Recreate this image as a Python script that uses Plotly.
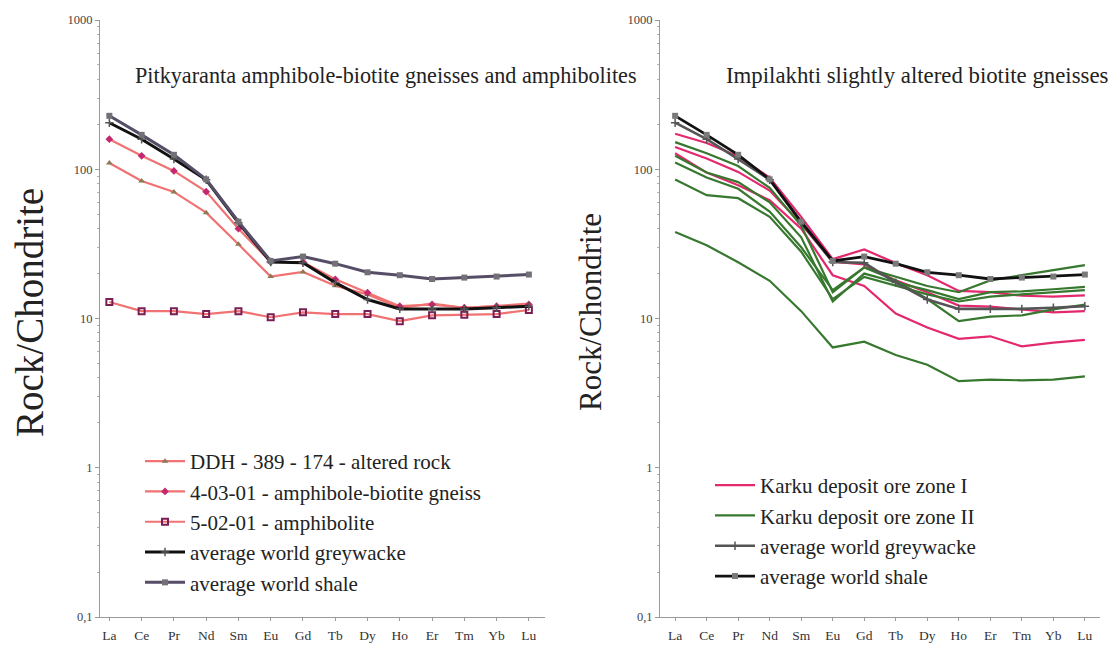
import plotly.graph_objects as go

ree = ["La", "Ce", "Pr", "Nd", "Sm", "Eu", "Gd", "Tb", "Dy", "Ho", "Er", "Tm", "Yb", "Lu"]

# Left panel (Pitkyaranta)
ddh_389_174 = [110, 83.5, 70.5, 51.2, 31.4, 19.1, 20.5, 16.6, 14.5, 11.8, 12.6, 11.8, 12.1, 12.6]
s_4_03_01 = [159, 123, 97.5, 70.8, 40, 23.9, 23.9, 18.3, 14.9, 12.1, 12.4, 11.8, 12.1, 12.4]
s_5_02_01 = [12.9, 11.2, 11.2, 10.7, 11.2, 10.2, 11.0, 10.7, 10.7, 9.6, 10.5, 10.6, 10.7, 11.4]
greywacke = [205, 159, 117, 85, 43.8, 23.9, 23.6, 17.4, 13.4, 11.6, 11.6, 11.6, 11.8, 12.1]
shale = [228, 170, 125, 85.5, 44.5, 24.3, 26.0, 23.3, 20.4, 19.5, 18.4, 18.8, 19.1, 19.7]

# Right panel (Impilakhti) - Karku deposit ore zone I
karku_I = [
    [173, 150, 122, 88, 48, 25, 29, 23.5, 19.5, 15.3, 15, 14.2, 14, 14.3],
    [141, 118, 96, 72, 43, 24, 23, 18, 15, 12.2, 12, 11.5, 11, 11.2],
    [128, 95, 78, 62, 40, 19.5, 16.5, 10.8, 8.7, 7.3, 7.6, 6.5, 6.9, 7.2],
]
# Karku deposit ore zone II
karku_II = [
    [152, 128, 105, 75, 42, 15, 22, 19, 16.5, 15, 18, 19.5, 21, 22.8],
    [123, 95, 82, 60, 35, 13, 20, 17.5, 15.5, 13.5, 15, 15.2, 15.7, 16.3],
    [111, 88, 74, 52, 30, 15.5, 22, 18, 13.5, 9.6, 10.3, 10.5, 11.5, 12.4],
    [85.5, 67, 64, 48, 28, 13.5, 19, 16.5, 14.5, 13, 14, 14.5, 15, 15.5],
    [38, 31, 23.8, 17.9, 11.2, 6.4, 7.0, 5.7, 4.9, 3.8, 3.9, 3.85, 3.9, 4.1],
]

ytick_vals = [0.1, 1, 10, 100, 1000]
ytick_text = ["0,1", "1", "10", "100", "1000"]

SERIF = "Liberation Serif, Times New Roman, serif"
SALMON = "#f07272"
PINK = "#e4286e"
GREEN = "#37782f"

# the page body has an 8px margin; positions below are given in window pixels
OFF = 8
W, H = 1119, 650


def px(p):
    return (p - OFF) / W


def py(p):
    return 1 - (p - OFF) / H


fig = go.Figure()

# ---- left panel ----
fig.add_trace(go.Scatter(x=ree, y=ddh_389_174, mode="lines+markers", name="DDH - 389 - 174 - altered rock",
                         line=dict(color=SALMON, width=2.2),
                         marker=dict(symbol="triangle-up", size=6, color="#8c7a55"),
                         xaxis="x", yaxis="y", legend="legend"))
fig.add_trace(go.Scatter(x=ree, y=s_4_03_01, mode="lines+markers", name="4-03-01 - amphibole-biotite gneiss",
                         line=dict(color=SALMON, width=2.2),
                         marker=dict(symbol="diamond", size=6, color="#c4286e"),
                         xaxis="x", yaxis="y", legend="legend"))
fig.add_trace(go.Scatter(x=ree, y=s_5_02_01, mode="lines+markers", name="5-02-01 - amphibolite",
                         line=dict(color=SALMON, width=2.2),
                         marker=dict(symbol="square-open", size=6, color="#7a1f55", line=dict(width=2)),
                         xaxis="x", yaxis="y", legend="legend"))
fig.add_trace(go.Scatter(x=ree, y=greywacke, mode="lines+markers", name="average world greywacke",
                         line=dict(color="#111111", width=3),
                         marker=dict(symbol="cross-thin", size=6, color="#333333", line=dict(width=1.5, color="#555555")),
                         xaxis="x", yaxis="y", legend="legend"))
fig.add_trace(go.Scatter(x=ree, y=shale, mode="lines+markers", name="average world shale",
                         line=dict(color="#564e66", width=3),
                         marker=dict(symbol="square", size=6, color="#737078"),
                         xaxis="x", yaxis="y", legend="legend"))

# ---- right panel ----
for i, ser in enumerate(karku_I):
    fig.add_trace(go.Scatter(x=ree, y=ser, mode="lines", name="Karku deposit ore zone I",
                             line=dict(color=PINK, width=2.2), legendgroup="k1",
                             showlegend=(i == 0), xaxis="x2", yaxis="y2", legend="legend2"))
for i, ser in enumerate(karku_II):
    fig.add_trace(go.Scatter(x=ree, y=ser, mode="lines", name="Karku deposit ore zone II",
                             line=dict(color=GREEN, width=2.2), legendgroup="k2",
                             showlegend=(i == 0), xaxis="x2", yaxis="y2", legend="legend2"))
fig.add_trace(go.Scatter(x=ree, y=greywacke, mode="lines+markers", name="average world greywacke",
                         line=dict(color="#555555", width=2.6),
                         marker=dict(symbol="cross-thin", size=6, line=dict(width=1.5, color="#555555")),
                         xaxis="x2", yaxis="y2", legend="legend2"))
fig.add_trace(go.Scatter(x=ree, y=shale, mode="lines+markers", name="average world shale",
                         line=dict(color="#111111", width=2.8),
                         marker=dict(symbol="square", size=6, color="#7a7a7a"),
                         xaxis="x2", yaxis="y2", legend="legend2"))

xaxis_common = dict(type="category", categoryorder="array", categoryarray=ree, automargin=False,
                    showline=True, linecolor="#9a9a9a", linewidth=1, ticks="outside", ticklen=3,
                    tickcolor="#9a9a9a", showgrid=False, zeroline=False, ticklabelstandoff=3,
                    tickfont=dict(family=SERIF, size=13.5, color="#333333"))
yaxis_common = dict(type="log", range=[-1, 3], showline=True, linecolor="#9a9a9a", linewidth=1, automargin=False,
                    ticks="outside", ticklen=4, tickcolor="#9a9a9a", showgrid=False, zeroline=False,
                    tickvals=ytick_vals, ticktext=ytick_text,
                    tickfont=dict(family=SERIF, size=12.5, color="#444444"),
                    minor=dict(ticks="outside", ticklen=2, tickcolor="#b0b0b0", dtick="D1", showgrid=False),
                    domain=[py(617), py(20)])

fig.update_layout(
    width=W, height=H, margin=dict(l=0, r=0, t=0, b=0, autoexpand=False),
    paper_bgcolor="white", plot_bgcolor="white",
    xaxis=dict(xaxis_common, domain=[px(100), px(545)], range=[-0.29, 13.5], anchor="y"),
    yaxis=dict(yaxis_common, anchor="x"),
    xaxis2=dict(xaxis_common, domain=[px(660), px(1100)], range=[-0.48, 13.48], anchor="y2"),
    yaxis2=dict(yaxis_common, anchor="x2"),
    legend=dict(x=px(140), y=py(441), xanchor="left", yanchor="top",
                font=dict(family=SERIF, size=21, color="#222222"), bgcolor="rgba(0,0,0,0)",
                tracegroupgap=0, itemwidth=40),
    legend2=dict(x=px(710), y=py(465), xanchor="left", yanchor="top",
                 font=dict(family=SERIF, size=21, color="#222222"), bgcolor="rgba(0,0,0,0)",
                 tracegroupgap=0, itemwidth=40),
    showlegend=True,
)

fig.add_annotation(text="Pitkyaranta amphibole-biotite gneisses and amphibolites", xref="paper", yref="paper",
                   x=px(386), y=py(75), xanchor="center", yanchor="middle", showarrow=False,
                   font=dict(family=SERIF, size=22.2, color="#222222"))
fig.add_annotation(text="Impilakhti slightly altered biotite gneisses", xref="paper", yref="paper",
                   x=px(917), y=py(75), xanchor="center", yanchor="middle", showarrow=False,
                   font=dict(family=SERIF, size=22.8, color="#222222"))
fig.add_annotation(text="Rock/Chondrite", xref="paper", yref="paper", textangle=-90,
                   x=px(29), y=py(313), xanchor="center", yanchor="middle", showarrow=False,
                   font=dict(family=SERIF, size=39, color="#222222"))
fig.add_annotation(text="Rock/Chondrite", xref="paper", yref="paper", textangle=-90,
                   x=px(591), y=py(312), xanchor="center", yanchor="middle", showarrow=False,
                   font=dict(family=SERIF, size=31, color="#222222"))

fig.write_html("out.html")
